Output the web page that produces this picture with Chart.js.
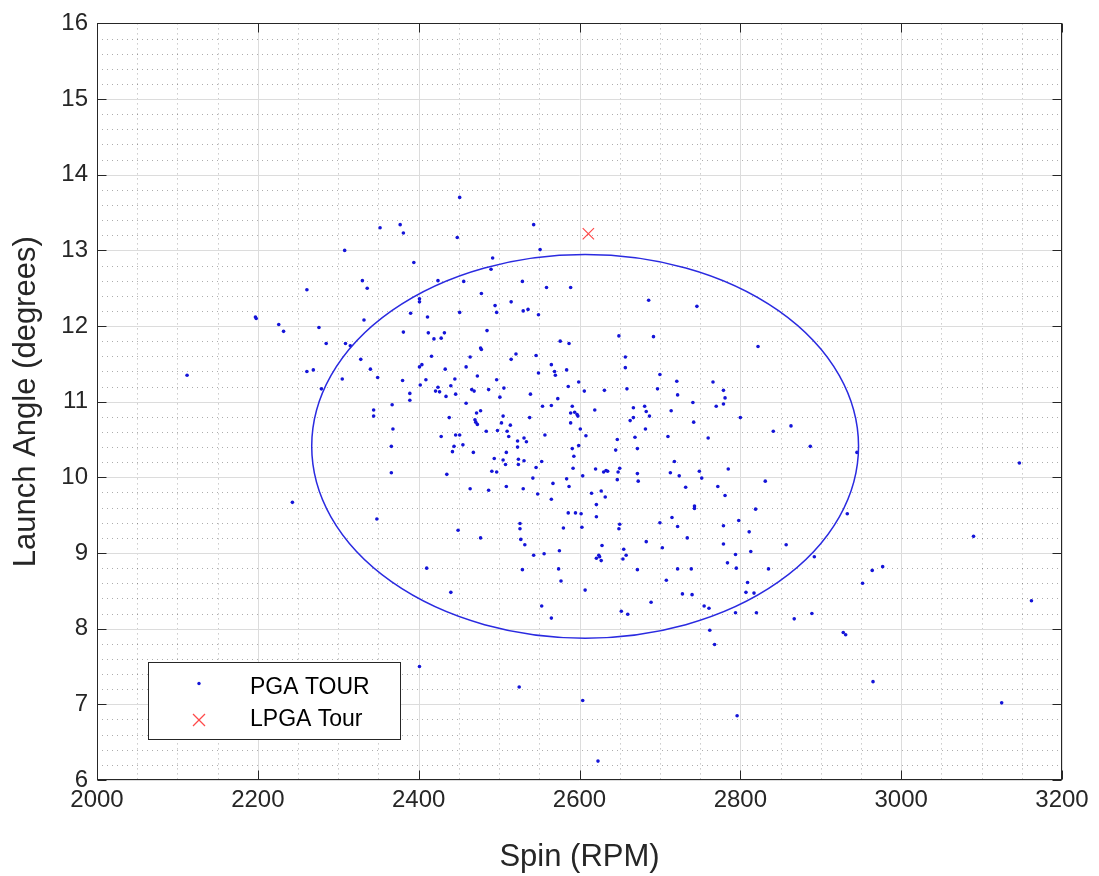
<!DOCTYPE html>
<html><head><meta charset="utf-8">
<script src="https://cdn.jsdelivr.net/npm/chart.js@4.4.1/dist/chart.umd.min.js"></script>
<style>html,body{margin:0;padding:0;background:#fff;overflow:hidden}canvas{display:block}</style>
</head><body>
<canvas id="c" width="1099" height="876"></canvas>
<script>
// ---- data ----
const pgaSpin = [
2352,2308,2330,2336,2261,2332,2197,2198,2226,2232,
2276,2285,2309,2315,2328,2340,2261,2269,2305,2349,
2112,2451,2377,2381,2448,2543,2551,2394,2492,2490,
2424,2456,2529,2559,2589,2478,2401,2401,2515,2495,
2390,2451,2497,2530,2536,2549,2411,2381,2412,2432,
2419,2428,2485,2477,2478,2576,2587,2416,2464,2521,
2515,2546,2404,2401,2433,2459,2565,2569,2570,2584,
2549,2473,2380,2409,2445,2497,2599,2686,2746,2649,
2692,2822,2657,2657,2700,2721,2766,2279,2344,2344,
2243,2348,2402,2421,2424,2426,2440,2434,2446,2389,
2389,2466,2469,2487,2506,2501,2539,2586,2606,2631,
2573,2367,2459,2554,2565,2591,2619,2477,2472,2589,
2594,2597,2598,2438,2505,2538,2470,2471,2473,2503,
2514,2589,2368,2484,2498,2510,2601,2428,2446,2451,
2512,2531,2557,2608,2523,2534,2455,2444,2523,2366,
2599,2591,2442,2468,2509,2593,2494,2505,2508,2524,
2524,2531,2553,2546,2592,2620,2630,2633,2635,2491,
2497,2435,2366,2604,2542,2584,2567,2587,2464,2487,
2509,2530,2548,2615,2627,2632,2565,2621,2586,2595,
2602,2621,2526,2526,2580,2603,2449,2477,2527,2532,
2628,2575,2556,2543,2621,2624,2625,2627,2410,2529,
2574,2577,2659,2697,2722,2779,2781,2779,2770,2741,
2667,2681,2683,2714,2687,2667,2663,2800,2742,2682,
2863,2841,2710,2760,2669,2647,2887,2645,2672,2718,
2785,2650,2648,2672,2713,2724,2749,2752,2647,2673,
2831,2732,2772,2781,2743,2743,2819,2715,2798,2700,
2650,2649,2722,2779,2811,2734,2683,2779,2857,2703,
2655,2658,2654,2813,2794,2892,2784,2672,2722,2739,
2795,2835,2708,2809,2807,2817,2652,2660,2689,2728,
2740,2755,2761,2762,2768,2794,2820,2867,2889,2796,
2440,2607,2553,2565,2401,2525,2604,2623,2945,2933,
3147,3090,2964,2977,2952,2928,2931,2965,3162,3125
];
const pgaLaunch = [
13.30,13.00,12.60,12.50,12.48,12.08,12.12,12.10,12.02,11.93,
11.98,11.77,11.77,11.74,11.56,11.43,11.40,11.42,11.30,11.32,
11.35,13.70,13.34,13.23,13.17,13.34,13.01,12.84,12.90,12.75,
12.60,12.59,12.59,12.51,12.51,12.43,12.36,12.32,12.32,12.27,
12.17,12.18,12.18,12.20,12.22,12.15,12.12,11.92,11.91,11.91,
11.83,11.84,11.94,11.71,11.69,11.80,11.77,11.60,11.59,11.63,
11.56,11.61,11.49,11.46,11.43,11.46,11.49,11.40,11.35,11.42,
11.38,11.34,11.28,11.29,11.30,11.29,11.26,12.34,12.26,11.87,
11.86,11.73,11.59,11.45,11.36,11.27,11.26,11.17,10.89,10.81,
9.67,9.45,11.22,11.14,11.19,11.13,11.21,11.07,11.10,11.11,
11.02,11.16,11.14,11.16,11.18,11.06,11.10,11.20,11.14,11.15,
11.04,10.96,10.98,10.94,10.95,10.94,10.89,10.88,10.85,10.85,
10.86,10.83,10.81,10.79,10.81,10.79,10.76,10.73,10.70,10.72,
10.69,10.72,10.64,10.61,10.62,10.61,10.64,10.54,10.56,10.56,
10.54,10.52,10.56,10.55,10.48,10.47,10.43,10.41,10.40,10.41,
10.42,10.38,10.34,10.33,10.33,10.28,10.25,10.23,10.17,10.24,
10.17,10.22,10.21,10.13,10.12,10.11,10.07,10.09,10.08,10.08,
10.07,10.04,10.06,10.02,9.99,9.98,9.92,9.88,9.85,9.83,
9.88,9.85,9.78,9.79,9.82,9.74,9.71,9.64,9.53,9.53,
9.52,9.48,9.39,9.32,9.33,9.34,9.30,9.20,9.18,9.11,
9.10,9.03,8.99,8.97,8.93,8.97,8.95,8.90,8.80,8.78,
8.79,8.63,11.17,11.17,11.09,11.15,11.05,10.97,10.94,10.99,
10.92,10.94,10.87,10.88,10.81,10.79,10.75,10.79,10.73,10.64,
10.68,10.61,10.54,10.52,10.53,10.50,10.41,10.36,10.38,10.21,
10.11,10.12,10.07,10.05,10.06,10.02,10.08,9.99,9.97,9.95,
9.95,9.87,9.88,9.76,9.62,9.59,9.58,9.47,9.43,9.40,
9.38,9.32,9.35,9.36,9.28,9.20,9.15,9.12,9.11,9.07,
9.05,8.97,8.92,9.02,8.98,8.95,8.87,8.78,8.79,8.79,
8.80,8.79,8.64,8.61,8.48,8.47,8.23,8.19,8.35,8.46,
8.45,8.30,8.27,7.98,7.79,8.21,8.21,8.13,8.20,6.85,
8.48,8.51,8.30,8.14,7.50,7.23,7.05,6.25,10.33,9.52,
10.19,9.22,8.77,8.82,8.60,7.95,7.92,7.30,8.37,7.02
];
const lpgaSpin = [2611];
const lpgaLaunch = [13.22];
const ellipseCenter = [2607, 10.41];   // spin, launch
const ellipseRadius = [340, 2.535];    // spin, launch
const xTicks = [2000,2200,2400,2600,2800,3000,3200];
const yTicks = [6,7,8,9,10,11,12,13,14,15,16];
const seriesNames = ['PGA TOUR','LPGA Tour'];
const xTitle = 'Spin (RPM)';
const yTitle = 'Launch Angle (degrees)';

// ---- styling ----
const FONT = "'Liberation Sans', Arial, Helvetica, sans-serif";
const AXIS_COLOR = '#262626';
const X_MINOR = 4, Y_MINOR = 5;

function line(ctx, x1, y1, x2, y2){ ctx.beginPath(); ctx.moveTo(x1,y1); ctx.lineTo(x2,y2); ctx.stroke(); }

const gridPlugin = {
  id: 'matlabGrid',
  beforeDatasetsDraw(chart){
    const {ctx, chartArea:a, scales:{x, y}} = chart;
    ctx.save();
    ctx.lineWidth = 1;
    ctx.strokeStyle = 'rgba(0,0,0,0.32)';
    ctx.setLineDash([1,4]);
    for (let i=0;i<xTicks.length-1;i++) for (let k=1;k<X_MINOR;k++){
      const v = xTicks[i] + (xTicks[i+1]-xTicks[i])*k/X_MINOR;
      const p = Math.round(x.getPixelForValue(v))+0.5;
      line(ctx, p, a.top, p, a.bottom);
    }
    for (let i=0;i<yTicks.length-1;i++) for (let k=1;k<Y_MINOR;k++){
      const v = yTicks[i] + (yTicks[i+1]-yTicks[i])*k/Y_MINOR;
      const p = Math.round(y.getPixelForValue(v))+0.5;
      line(ctx, a.left, p, a.right, p);
    }
    ctx.setLineDash([]);
    ctx.strokeStyle = '#dcdcdc';
    xTicks.forEach(v=>{ const p=Math.round(x.getPixelForValue(v))+0.5; line(ctx,p,a.top,p,a.bottom); });
    yTicks.forEach(v=>{ const p=Math.round(y.getPixelForValue(v))+0.5; line(ctx,a.left,p,a.right,p); });
    ctx.restore();
  },
  afterDatasetsDraw(chart){
    const {ctx, scales:{x, y}} = chart;
    const cx = x.getPixelForValue(ellipseCenter[0]);
    const cy = y.getPixelForValue(ellipseCenter[1]);
    const rx = Math.abs(x.getPixelForValue(ellipseCenter[0]+ellipseRadius[0]) - cx);
    const ry = Math.abs(y.getPixelForValue(ellipseCenter[1]+ellipseRadius[1]) - cy);
    ctx.save();
    ctx.strokeStyle = '#2a2ae0';
    ctx.lineWidth = 1.5;
    ctx.beginPath();
    ctx.ellipse(cx, cy, rx, ry, 0, 0, Math.PI*2);
    ctx.stroke();
    ctx.restore();
  },
  afterDraw(chart){
    const {ctx, chartArea:a, scales:{x, y}} = chart;
    ctx.save();
    ctx.strokeStyle = AXIS_COLOR;
    ctx.lineWidth = 1;
    const L = Math.round(a.left)+0.5, R = Math.round(a.right)-0.5, T = Math.round(a.top)+0.5, B = Math.round(a.bottom)-0.5;
    ctx.strokeRect(L, T, R-L, B-T);
    const TL = 9;
    xTicks.forEach(v=>{ const p=Math.round(x.getPixelForValue(v))+0.5; line(ctx,p,B,p,B-TL); line(ctx,p,T,p,T+TL); });
    yTicks.forEach(v=>{ const p=Math.round(y.getPixelForValue(v))+0.5; line(ctx,L,p,L+TL,p); line(ctx,R,p,R-TL,p); });

    // legend box
    const bx = 148.5, by = 662.5, bw = 252, bh = 77;
    ctx.fillStyle = '#ffffff';
    ctx.fillRect(bx, by, bw, bh);
    ctx.strokeStyle = AXIS_COLOR;
    ctx.strokeRect(bx, by, bw, bh);
    ctx.fillStyle = '#1414d8';
    ctx.beginPath(); ctx.arc(199, 683.5, 1.7, 0, Math.PI*2); ctx.fill();
    ctx.strokeStyle = '#ff4a4a'; ctx.lineWidth = 1.2;
    const s = 6;
    line(ctx, 199-s, 720-s, 199+s, 720+s); line(ctx, 199-s, 720+s, 199+s, 720-s);
    ctx.fillStyle = '#000000';
    ctx.font = "23px " + FONT;
    ctx.textBaseline = 'middle';
    ctx.textAlign = 'left';
    ctx.fillText(seriesNames[0], 250, 688);
    ctx.fillText(seriesNames[1], 250, 720);
    ctx.restore();
  }
};

const ctx = document.getElementById('c').getContext('2d');
new Chart(ctx, {
  type: 'scatter',
  data: {
    datasets: [
      {
        label: seriesNames[0],
        data: pgaSpin.map((v,i)=>({x:v, y:pgaLaunch[i]})),
        pointRadius: 1.8, pointHoverRadius: 1.8,
        pointBackgroundColor: '#1414d8', pointBorderWidth: 0,
        showLine: false
      },
      {
        label: seriesNames[1],
        data: lpgaSpin.map((v,i)=>({x:v, y:lpgaLaunch[i]})),
        pointStyle: 'crossRot', pointRadius: 8, pointHoverRadius: 8,
        borderColor: '#ff4a4a', pointBorderColor: '#ff4a4a', pointBorderWidth: 1.2,
        showLine: false
      }
    ]
  },
  options: {
    responsive: false,
    animation: false,
    devicePixelRatio: 1,
    events: [],
    layout: { padding: { left: 0, top: 18, right: 37, bottom: 0 } },
    plugins: { legend: { display: false }, tooltip: { enabled: false } },
    scales: {
      x: {
        type: 'linear', min: 2000, max: 3200,
        afterBuildTicks: s => { s.ticks = xTicks.map(v=>({value:v})); },
        afterFit: s => { s.height = 96; },
        grid: { display: false, drawTicks: false },
        border: { display: false },
        ticks: { font: { family: FONT, size: 24 }, color: AXIS_COLOR, padding: 6, maxRotation: 0, autoSkip: false,
                 callback: v => String(v) },
        title: { display: true, text: xTitle, color: AXIS_COLOR, font: { family: FONT, size: 31 }, padding: { top: 0, bottom: 0 } }
      },
      y: {
        type: 'linear', min: 6, max: 16,
        afterBuildTicks: s => { s.ticks = yTicks.map(v=>({value:v})); },
        afterFit: s => { s.width = 97; },
        grid: { display: false, drawTicks: false },
        border: { display: false },
        ticks: { font: { family: FONT, size: 24 }, color: AXIS_COLOR, padding: 9, autoSkip: false,
                 callback: v => String(v) },
        title: { display: true, text: yTitle, color: AXIS_COLOR, font: { family: FONT, size: 31 }, padding: { top: 8, bottom: 0 } }
      }
    }
  },
  plugins: [gridPlugin]
});
</script>
</body></html>
